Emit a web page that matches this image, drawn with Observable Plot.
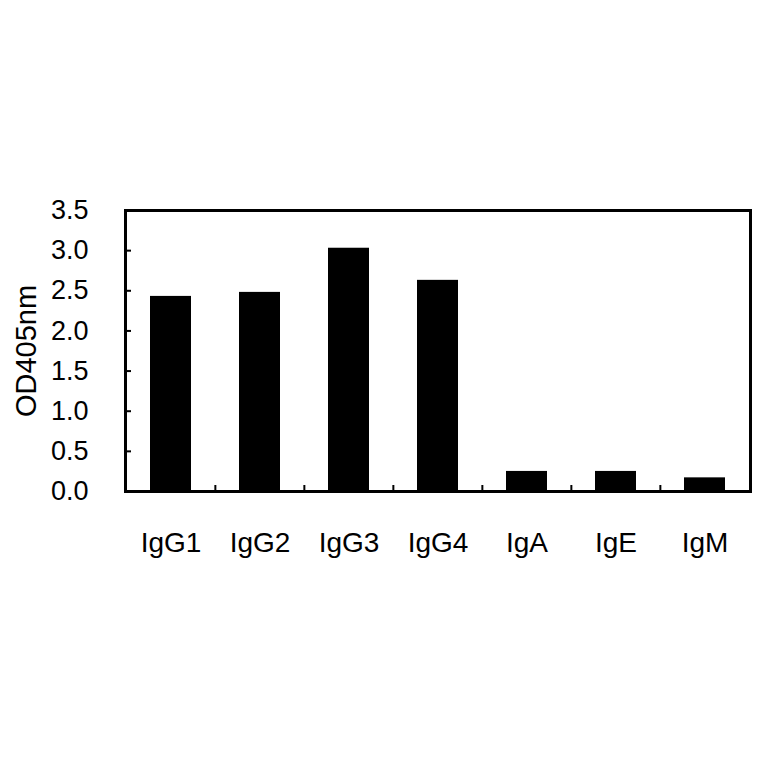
<!DOCTYPE html>
<html>
<head>
<meta charset="utf-8">
<script src="https://cdn.jsdelivr.net/npm/d3@7"></script>
<script src="https://cdn.jsdelivr.net/npm/@observablehq/plot@0.6"></script>
<style>
  html, body { margin: 0; padding: 0; background: #fff; }
  #chart svg { display: block; }
</style>
</head>
<body>
<div id="chart"></div>
<script>
const categories = ["IgG1", "IgG2", "IgG3", "IgG4", "IgA", "IgE", "IgM"];
const values = [2.43, 2.48, 3.03, 2.63, 0.25, 0.25, 0.17];
const yTicks = [0, 0.5, 1.0, 1.5, 2.0, 2.5, 3.0, 3.5];
const yLabel = "OD405nm";

const data = categories.map((c, i) => ({ cat: c, v: values[i] }));

const W = 764, H = 764;
const mL = 125, mR = 14, mT = 210, mB = 273;
const step = (W - mL - mR) / categories.length;

const chart = Plot.plot({
  width: W,
  height: H,
  marginLeft: mL,
  marginRight: mR,
  marginTop: mT,
  marginBottom: mB,
  style: { fontFamily: "'Liberation Sans', Arial, sans-serif", background: "#fff", color: "#000" },
  x: { domain: categories, padding: 0 },
  y: { domain: [0, 3.5] },
  marks: [
    Plot.barY(data, { x: "cat", y: "v", fill: "#000", insetLeft: 24, insetRight: 24 }),
    // y tick labels
    Plot.axisY({ ticks: yTicks, tickSize: 0, tickPadding: 37, tickFormat: d3.format(".1f"), fontSize: 27, label: null }),
    // inward y ticks
    Plot.axisY({ ticks: yTicks.slice(1, -1), tickSize: -6, tickFormat: null, text: null, label: null, strokeWidth: 2 }),
    // y title
    Plot.axisY({ ticks: [], label: yLabel, labelAnchor: "center", labelArrow: "none", labelOffset: 110, fontSize: 29, tickSize: 0 }),
    // x labels
    Plot.axisX({ tickSize: 0, tickPadding: 41, fontSize: 28, label: null }),
    // inward separator ticks between categories
    Plot.axisX({ ticks: categories.slice(1), tickSize: -6, text: null, label: null, dx: -step / 2, strokeWidth: 2 }),
    Plot.frame({ stroke: "#000", strokeWidth: 3 })
  ]
});

document.getElementById("chart").appendChild(chart);
</script>
</body>
</html>
